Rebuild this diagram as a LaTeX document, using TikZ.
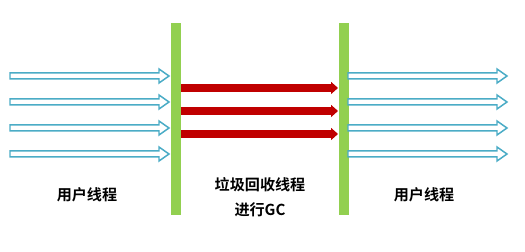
\documentclass[tikz,border=0pt]{standalone}
\usepackage{fontspec}
\newfontfamily\cjkbold{Noto Sans CJK SC Bold}
\usetikzlibrary{positioning}
\definecolor{barGreen}{RGB}{146,208,80}
\definecolor{userBlue}{RGB}{75,172,198}
\definecolor{gcRed}{RGB}{192,0,0}
\tikzset{
  userarrow/.style={draw=userBlue, line width=0.85pt, fill=white, line join=miter},
  gcarrow/.style={fill=gcRed},
  label/.style={font=\cjkbold\fontsize{8.6}{10}\selectfont, inner sep=0pt}
}
\begin{document}
\begin{tikzpicture}[x=0.02cm, y=-0.02cm]
  \useasboundingbox (0,0) rectangle (525,252);
  % --- stop-the-world bars ---
  \fill[barGreen] (171,23) rectangle (181,215);
  \fill[barGreen] (339,23) rectangle (349,215);
  % --- user threads: hollow arrows on both sides ---
  \foreach \y in {76,102,128,154} {
    \foreach \xa/\xb in {10/169, 348/507} {
      \draw[userarrow] (\xa,\y-3) -- (\xb-10,\y-3) -- (\xb-10,\y-7) -- (\xb,\y)
        -- (\xb-10,\y+7) -- (\xb-10,\y+3) -- (\xa,\y+3) -- cycle;
    }
  }
  % --- gc threads: solid red arrows between the bars ---
  \foreach \y in {88,111,134} {
    \fill[gcarrow] (181,\y-3.8) -- (331,\y-3.8) -- (331,\y-6.2) -- (338,\y)
      -- (331,\y+6.2) -- (331,\y+3.8) -- (181,\y+3.8) -- cycle;
  }
  % --- labels ---
  \node[label] (userL) at (87,195) {用户线程};
  \node[label] (gcT) at (260,185) {垃圾回收线程};
  \node[label, below=14pt of gcT.center, anchor=center] (gcB) {进行GC};
  \node[label] (userR) at (424,195) {用户线程};
\end{tikzpicture}
\end{document}
